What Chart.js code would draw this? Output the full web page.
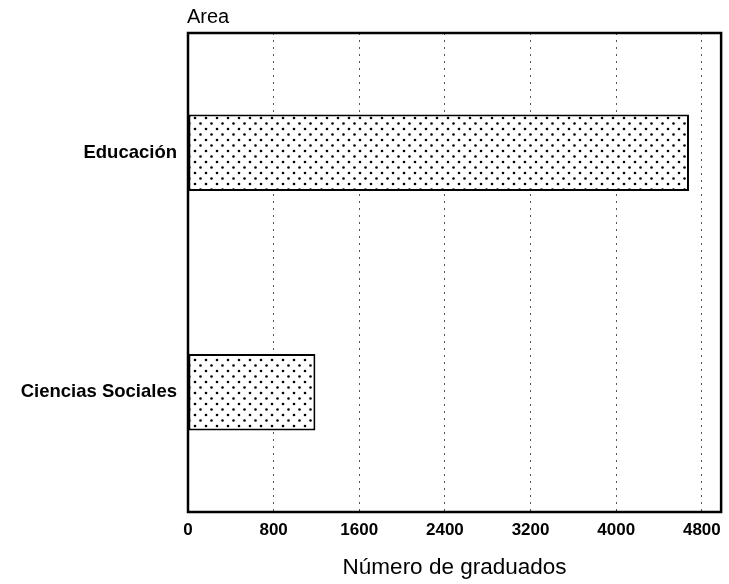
<!DOCTYPE html>
<html>
<head>
<meta charset="utf-8">
<script src="https://cdn.jsdelivr.net/npm/chart.js@4/dist/chart.umd.min.js"></script>
<style>
html,body{margin:0;padding:0;background:#fff;}
#wrap{width:729px;height:584px;}
</style>
</head>
<body>
<div id="wrap"><canvas id="c" width="729" height="584"></canvas></div>
<script>
const categories = ['Educación', 'Ciencias Sociales'];
const graduados = [4680, 1190];
const xTicks = [0, 800, 1600, 2400, 3200, 4000, 4800];
const axisTitleX = 'Número de graduados';
const axisTitleY = 'Area';

const FONT = '"Liberation Sans", Arial, sans-serif';

function dotPattern() {
  const p = document.createElement('canvas');
  p.width = 11; p.height = 11;
  const g = p.getContext('2d');
  g.fillStyle = '#fff';
  g.fillRect(0, 0, 11, 11);
  g.fillStyle = '#000';
  g.beginPath(); g.arc(2.5, 2.5, 1.3, 0, Math.PI * 2); g.fill();
  g.beginPath(); g.arc(8, 8, 1.3, 0, Math.PI * 2); g.fill();
  return document.getElementById('c').getContext('2d').createPattern(p, 'repeat');
}

const frame = {
  id: 'frame',
  afterDatasetsDraw(chart) {
    const a = chart.chartArea, ctx = chart.ctx;
    ctx.save();
    ctx.strokeStyle = '#000';
    ctx.lineWidth = 2.5;
    ctx.strokeRect(a.left, a.top, a.right - a.left, a.bottom - a.top);
    ctx.fillStyle = '#000';
    ctx.font = '20px ' + FONT;
    ctx.textAlign = 'left';
    ctx.textBaseline = 'alphabetic';
    ctx.fillText(axisTitleY, a.left - 1, 23);
    ctx.restore();
  }
};

new Chart(document.getElementById('c'), {
  type: 'bar',
  data: {
    labels: categories,
    datasets: [{
      data: graduados,
      backgroundColor: dotPattern(),
      borderColor: '#000',
      borderWidth: 2,
      borderSkipped: false,
      barPercentage: 0.64,
      categoryPercentage: 0.5
    }]
  },
  options: {
    indexAxis: 'y',
    responsive: false,
    animation: false,
    devicePixelRatio: 1,
    layout: { padding: { top: 33, right: 7, left: 0, bottom: 0 } },
    plugins: { legend: { display: false }, tooltip: { enabled: false }, title: { display: false } },
    scales: {
      x: {
        type: 'linear',
        min: 0,
        max: 4980,
        afterFit(s) { s.height = 72; },
        afterBuildTicks(s) { s.ticks = xTicks.map(v => ({ value: v })); },
        border: { display: false, dash: [2, 5] },
        grid: {
          drawTicks: false,
          color: (c) => c.tick && c.tick.value === 0 ? 'rgba(0,0,0,0)' : '#555',
          lineWidth: 1
        },
        ticks: {
          padding: 8,
          color: '#000',
          font: { family: FONT, size: 17, weight: 'bold' },
          maxRotation: 0,
          callback: (v) => String(v)
        },
        title: {
          display: true,
          text: axisTitleX,
          color: '#000',
          font: { family: FONT, size: 22.5 },
          padding: { top: 0, bottom: 3 }
        }
      },
      y: {
        type: 'category',
        afterFit(s) { s.width = 188; },
        border: { display: false },
        grid: { display: false, drawTicks: false },
        ticks: {
          padding: 11,
          color: '#000',
          font: { family: FONT, size: 18.5, weight: 'bold' }
        }
      }
    }
  },
  plugins: [frame]
});
</script>
</body>
</html>
